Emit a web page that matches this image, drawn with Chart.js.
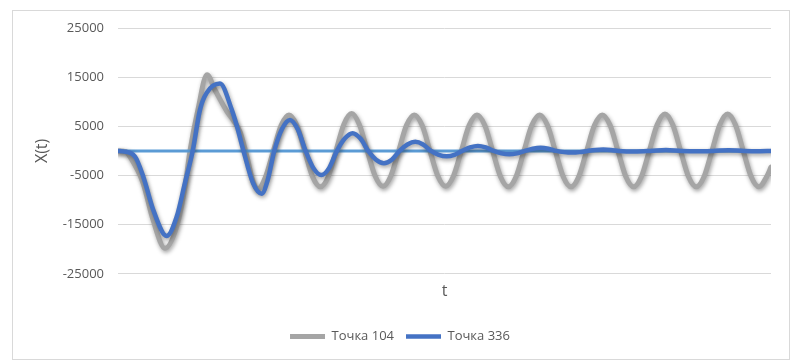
<!DOCTYPE html>
<html><head><meta charset="utf-8">
<script src="https://cdn.jsdelivr.net/npm/chart.js@4.4.1/dist/chart.umd.min.js"></script>
<style>html,body{margin:0;padding:0;background:#fff}#wrap{position:relative;width:800px;height:363px}</style>
</head><body><div id="wrap"><canvas id="c" width="800" height="363"></canvas></div>
<script>
const seriesNames = ['Точка 104', 'Точка 336'];
const yTicks = [-25000, -15000, -5000, 5000, 15000, 25000];
const tMax = 83.37;

const t104 = [0,1.02,1.53,3.19,4.47,6.0,7.53,8.55,9.19,10.21,11.36,12.38,13.92,14.68,15.57,16.47,17.1,
  17.83,18.83,19.83,20.83,21.83,22.83,23.83,24.83,25.83,26.83,27.83,28.83,29.83,30.83,31.83,32.83,33.83,34.83,
  35.83,36.83,37.83,38.83,39.83,40.83,41.83,42.83,43.83,44.83,45.83,46.83,47.83,48.83,49.83,50.83,51.83,52.83,
  53.83,54.83,55.83,56.83,57.83,58.83,59.83,60.83,61.83,62.83,63.83,64.83,65.83,66.83,67.83,68.83,69.83,70.83,
  71.83,72.83,73.83,74.83,75.83,76.83,77.83,78.83,79.83,80.83,81.83,82.83,83.37];
const x104 = [0,-200,-1200,-6500,-14000,-19800,-15200,-7300,0,8400,15500,12400,8000,6300,3900,-1200,-5500,
  -7800,-5300,0,5200,7300,5200,0,-5200,-7300,-5300,0,5400,7600,5300,0,-5100,-7200,-5100,
  0,5200,7300,5200,0,-5100,-7200,-5100,0,5200,7300,5200,0,-5200,-7300,-5200,0,5200,
  7300,5200,0,-5200,-7300,-5200,0,5200,7300,5200,0,-5200,-7300,-5200,0,5300,7500,5300,
  0,-5200,-7300,-5200,0,5300,7500,5300,0,-5200,-7300,-5200,-3300];

const t336 = [0,0.64,2.17,3.22,4.5,6.22,7.49,8.55,9.54,10.47,11.32,13.02,14.52,15.19,16.02,17.23,18.35,19.1,
  19.95,20.95,21.95,22.95,23.95,24.95,25.95,26.95,27.95,28.95,29.95,30.95,31.95,32.95,33.95,34.95,35.95,36.95,
  37.95,38.95,39.95,40.95,41.95,42.95,43.95,44.95,45.95,46.95,47.95,48.95,49.95,50.95,51.95,52.95,53.95,54.95,
  55.95,56.95,57.95,58.95,59.95,60.95,61.95,62.95,63.95,65.95,67.95,69.95,71.95,73.95,75.95,77.95,79.95,81.95,83.37];
const x336 = [0,-100,-1150,-5200,-12000,-17300,-13400,-6500,0,8400,11800,13700,8400,5000,0,-6500,-8700,-6000,
  0,4500,6300,4400,0,-3500,-4900,-3500,0,2500,3600,2500,0,-1800,-2500,-1800,0,1300,
  1850,1300,0,-800,-1100,-800,0,700,1000,700,0,-500,-700,-500,0,450,650,450,
  0,-250,-350,-250,0,200,280,200,0,-120,0,200,0,-80,0,150,0,-50,0];

const tZero = [0, tMax];
const xZero = [0, 0];

const pts = (t, v) => t.map((x, i) => ({x: x, y: v[i]}));

const shadowPlugin = {
  id: 'shadow',
  beforeDatasetDraw(chart, args) {
    const ds = chart.data.datasets[args.index];
    if (!ds.shadow) return;
    const c = chart.ctx; c.save();
    c.shadowColor = 'rgba(0,0,0,0.38)'; c.shadowBlur = 4; c.shadowOffsetX = 1; c.shadowOffsetY = 2;
  },
  afterDatasetDraw(chart, args) {
    if (chart.data.datasets[args.index].shadow) chart.ctx.restore();
  }
};
const framePlugin = {
  id: 'frame',
  beforeDraw(chart) {
    const c = chart.ctx; c.save();
    c.fillStyle = '#fff'; c.fillRect(0, 0, chart.width, chart.height);
    c.strokeStyle = '#d9d9d9'; c.lineWidth = 1; c.strokeRect(12.5, 10.5, 777, 349);
    c.restore();
  }
};

const FONT = '"Open Sans", "Noto Sans", sans-serif';
new Chart(document.getElementById('c'), {
  type: 'line',
  data: {
    datasets: [
      {label: seriesNames[0], data: pts(t104, x104), borderColor: '#a5a5a5', backgroundColor: '#a5a5a5',
       borderWidth: 5, pointRadius: 0, cubicInterpolationMode: 'monotone', borderCapStyle: 'round', borderJoinStyle: 'round', order: 3, shadow: true},
      {label: seriesNames[1], data: pts(t336, x336), borderColor: '#4472c4', backgroundColor: '#4472c4',
       borderWidth: 4.5, pointRadius: 0, cubicInterpolationMode: 'monotone', borderCapStyle: 'round', borderJoinStyle: 'round', order: 1, shadow: true},
      {label: 'zero', data: pts(tZero, xZero), borderColor: '#5b9bd5', borderWidth: 3, pointRadius: 0, order: 2}
    ]
  },
  options: {
    responsive: false, animation: false, devicePixelRatio: 1,
    layout: {padding: {top: 28, left: 29, right: 29, bottom: 10}},
    plugins: {
      tooltip: {enabled: false},
      legend: {
        position: 'bottom',
        labels: {
          filter: item => item.datasetIndex < 2,
          sort: (a, b) => a.datasetIndex - b.datasetIndex,
          usePointStyle: true, pointStyle: 'line', pointStyleWidth: 35, boxHeight: 13,
          padding: 12, color: '#595959', font: {family: FONT, size: 13}
        }
      }
    },
    scales: {
      x: {
        type: 'linear', min: 0, max: tMax,
        ticks: {display: false}, grid: {display: false, drawTicks: false}, border: {display: false},
        title: {display: true, text: 't', color: '#595959', font: {family: FONT, size: 16}, padding: {top: 8, bottom: 17}}
      },
      y: {
        min: -25000, max: 25000,
        afterBuildTicks: s => { s.ticks = yTicks.map(v => ({value: v})); },
        afterFit: s => { s.width = 89; },
        ticks: {padding: 14, color: '#595959', font: {family: FONT, size: 13}, callback: v => String(v)},
        grid: {color: '#d9d9d9', lineWidth: 1, drawTicks: false},
        border: {display: false},
        title: {display: true, text: 'X(t)', color: '#595959', font: {family: FONT, size: 16}, padding: {top: 4, bottom: 0}}
      }
    }
  },
  plugins: [shadowPlugin, framePlugin]
});
</script></body></html>
